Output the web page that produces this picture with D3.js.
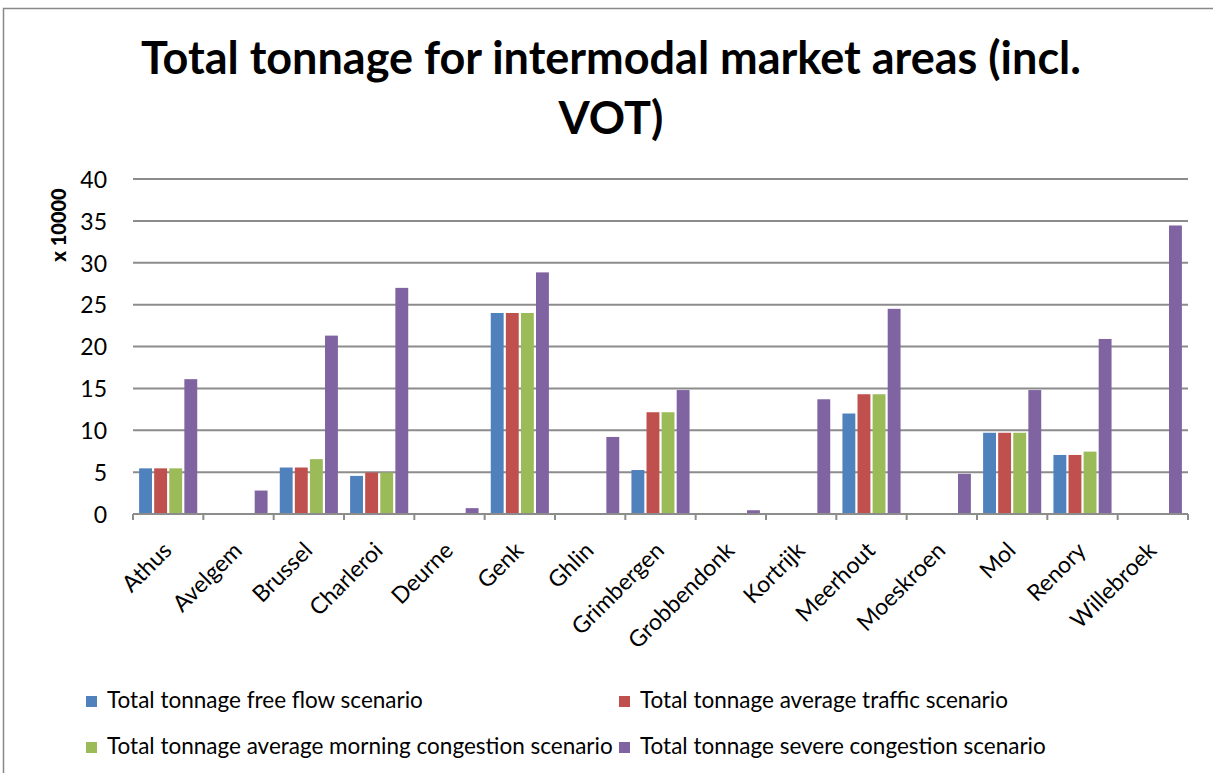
<!DOCTYPE html>
<html>
<head>
<meta charset="utf-8">
<script src="https://cdn.jsdelivr.net/npm/d3@7"></script>
<style>
  html, body { margin: 0; padding: 0; background: #fff; }
  svg { display: block; }
  text { font-family: Lato, "Open Sans", sans-serif; fill: #000; }
</style>
</head>
<body>
<svg id="chart" width="1213" height="773"></svg>
<script>
// Market areas along the x axis
const categories = ["Athus", "Avelgem", "Brussel", "Charleroi", "Deurne", "Genk", "Ghlin",
  "Grimbergen", "Grobbendonk", "Kortrijk", "Meerhout", "Moeskroen", "Mol", "Renory", "Willebroek"];

// Tonnage per scenario (x 10000)
const freeFlow       = [5.45, 0, 5.55, 4.55, 0, 24.0, 0, 5.25, 0, 0, 12.0, 0, 9.7, 7.05, 0];
const averageTraffic = [5.45, 0, 5.55, 4.95, 0, 24.0, 0, 12.15, 0, 0, 14.3, 0, 9.7, 7.05, 0];
const morningCongest = [5.45, 0, 6.55, 4.95, 0, 24.0, 0, 12.15, 0, 0, 14.3, 0, 9.7, 7.45, 0];
const severeCongest  = [16.1, 2.8, 21.3, 27.0, 0.7, 28.85, 9.2, 14.8, 0.45, 13.7, 24.5, 4.8, 14.8, 20.9, 34.45];

const seriesNames = [
  "Total tonnage free flow scenario",
  "Total tonnage average traffic scenario",
  "Total tonnage average morning congestion scenario",
  "Total tonnage severe congestion scenario"
];
const seriesColors = ["#4F81BD", "#C0504D", "#9BBB59", "#8064A2"];
const yTicks = [0, 5, 10, 15, 20, 25, 30, 35, 40];

const series = [freeFlow, averageTraffic, morningCongest, severeCongest];
const rows = categories.map((c, i) => ({ cat: c, vals: series.map(s => s[i]) }));

const svg = d3.select("#chart");

// outer chart frame
svg.append("rect")
  .attr("x", 3.5).attr("y", 8.5)
  .attr("width", 1240).attr("height", 800)
  .attr("fill", "none").attr("stroke", "#888").attr("stroke-width", 1.5);

// title
const title = svg.append("text")
  .attr("text-anchor", "middle")
  .attr("font-weight", "bold")
  .attr("font-size", 45);
title.append("tspan").attr("x", 611).attr("y", 74).text("Total tonnage for intermodal market areas (incl.");
title.append("tspan").attr("x", 611).attr("y", 134).text("VOT)");

const plot = { left: 133, right: 1188, top: 179, bottom: 514 };

const x = d3.scaleBand().domain(categories).range([plot.left, plot.right]).padding(0);
const inner = d3.scaleBand().domain(d3.range(series.length))
  .range([5, x.bandwidth() - 5]).padding(0);
const y = d3.scaleLinear().domain([0, 40]).range([plot.bottom, plot.top]);

// horizontal gridlines
svg.append("g")
  .selectAll("line")
  .data(yTicks.filter(t => t > 0))
  .join("line")
  .attr("x1", plot.left).attr("x2", plot.right)
  .attr("y1", d => y(d)).attr("y2", d => y(d))
  .attr("stroke", "#8c8c8c").attr("stroke-width", 2);

// y axis labels
const yAxis = d3.axisLeft(y).tickValues(yTicks).tickSize(0).tickPadding(0);
const yg = svg.append("g").attr("transform", `translate(${plot.left - 26},0)`).call(yAxis);
yg.select(".domain").remove();
yg.selectAll("text").attr("font-size", 23).attr("font-family", "Lato, sans-serif").attr("fill", "#000")
  .attr("dy", "0.36em");

// y axis title
svg.append("text")
  .attr("transform", `translate(66,225) rotate(-90)`)
  .attr("text-anchor", "middle")
  .attr("font-weight", "900")
  .attr("font-size", 20)
  .text("x 10000");

// bars
const groups = svg.append("g").selectAll("g")
  .data(rows).join("g")
  .attr("transform", d => `translate(${x(d.cat)},0)`);
groups.selectAll("rect")
  .data(d => d.vals.map((v, k) => ({ v, k })))
  .join("rect")
  .attr("x", d => inner(d.k) + 1.1)
  .attr("width", inner.bandwidth() - 2.2)
  .attr("y", d => y(d.v))
  .attr("height", d => y(0) - y(d.v))
  .attr("fill", d => seriesColors[d.k]);

// category axis with tick marks on band boundaries
const xg = svg.append("g").attr("transform", `translate(0,${plot.bottom})`);
xg.append("line")
  .attr("x1", plot.left).attr("x2", plot.right)
  .attr("stroke", "#8c8c8c").attr("stroke-width", 2);
xg.selectAll("line.tick")
  .data(d3.range(categories.length + 1))
  .join("line").attr("class", "tick")
  .attr("x1", i => plot.left + i * x.step()).attr("x2", i => plot.left + i * x.step())
  .attr("y1", 0).attr("y2", 6)
  .attr("stroke", "#8c8c8c").attr("stroke-width", 2);
xg.selectAll("text")
  .data(categories)
  .join("text")
  .attr("text-anchor", "end")
  .attr("font-size", 23)
  .attr("transform", d => `translate(${x(d) + x.bandwidth() / 2 + 5},${38}) rotate(-45)`)
  .text(d => d);

// legend
const legendPos = [[86, 701], [619, 701], [86, 747], [619, 747]];
const lg = svg.append("g").selectAll("g")
  .data(seriesNames).join("g")
  .attr("transform", (d, i) => `translate(${legendPos[i][0]},${legendPos[i][1]})`);
lg.append("rect").attr("x", 0).attr("y", -5).attr("width", 11).attr("height", 11)
  .attr("fill", (d, i) => seriesColors[i]);
lg.append("text").attr("x", 21).attr("y", 7).attr("font-size", 22.5).text(d => d);
</script>
</body>
</html>
